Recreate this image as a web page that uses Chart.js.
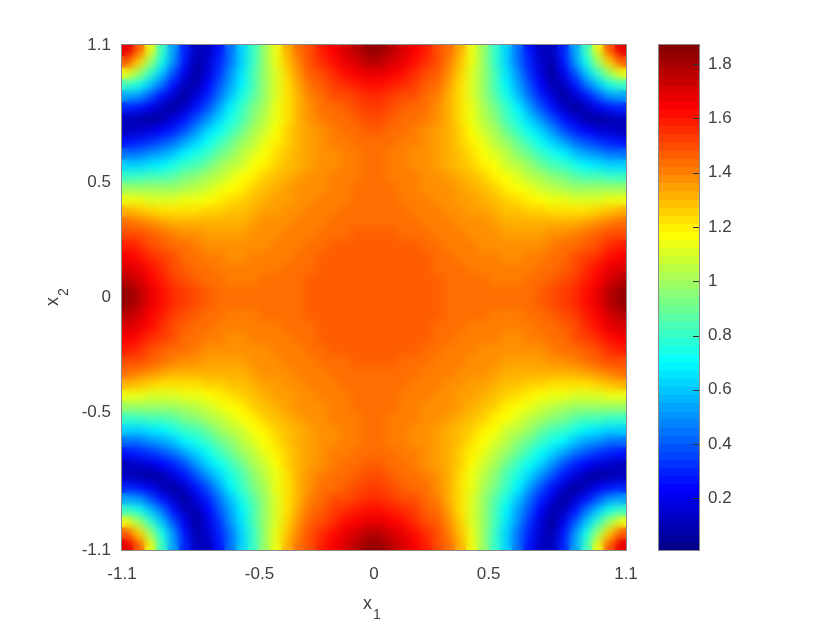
<!DOCTYPE html>
<html>
<head>
<meta charset="utf-8">
<title>contour</title>
<script src="https://cdn.jsdelivr.net/npm/chart.js@4"></script>
<style>
body { margin: 0; background: #fff; }
canvas { position: absolute; top: 0; }
#mapChart { left: 0; }
#barChart { left: 640px; }
</style>
</head>
<body>
<canvas id="mapChart" width="660" height="623"></canvas>
<canvas id="barChart" width="190" height="623"></canvas>
<script>
const xTicks = [-1.1, -0.5, 0, 0.5, 1.1];
const yTicks = [-1.1, -0.5, 0, 0.5, 1.1];
const colorTicks = [0.2, 0.4, 0.6, 0.8, 1, 1.2, 1.4, 1.6, 1.8];
const colorLevels = [0.01, 0.04, 0.07, 0.10, 0.13, 0.16, 0.19, 0.22, 0.25, 0.28, 0.31, 0.34, 0.37, 0.40, 0.43, 0.46,
    0.49, 0.52, 0.55, 0.58, 0.61, 0.64, 0.67, 0.70, 0.73, 0.76, 0.79, 0.82, 0.85, 0.88, 0.91, 0.94, 0.97, 1.00, 1.03,
    1.06, 1.09, 1.12, 1.15, 1.18, 1.21, 1.24, 1.27, 1.30, 1.33, 1.36, 1.39, 1.42, 1.45, 1.48, 1.51, 1.54, 1.57, 1.60,
    1.63, 1.66, 1.69, 1.72, 1.75, 1.78, 1.81, 1.84, 1.87];

// cell centres, measured in from the edge, the map repeats in all 4 quadrants
const cellCentres = [1.075, 1.025, 0.975, 0.925, 0.875, 0.825, 0.775, 0.725, 0.675, 0.625, 0.575,
    0.525, 0.475, 0.425, 0.375, 0.325, 0.275, 0.225, 0.175, 0.125, 0.075, 0.025];

// upper triangle, row i starts at column i
const cellValues = [
    [1.68, 1.46, 1.12, 0.80, 0.54, 0.30, 0.11, 0.11, 0.27, 0.43, 0.62, 0.81, 0.97, 1.13, 1.30, 1.42, 1.50, 1.58, 1.64, 1.70, 1.76, 1.82],
    [1.25, 0.99, 0.73, 0.49, 0.26, 0.08, 0.13, 0.29, 0.45, 0.63, 0.81, 0.97, 1.13, 1.29, 1.40, 1.48, 1.55, 1.61, 1.66, 1.71, 1.75],
    [0.80, 0.60, 0.39, 0.19, 0.04, 0.17, 0.32, 0.49, 0.65, 0.82, 0.97, 1.11, 1.255, 1.37, 1.455, 1.505, 1.56, 1.60, 1.65, 1.68],
    [0.44, 0.26, 0.11, 0.09, 0.23, 0.37, 0.53, 0.69, 0.84, 0.98, 1.10, 1.23, 1.35, 1.435, 1.475, 1.515, 1.55, 1.59, 1.62],
    [0.13, 0.05, 0.17, 0.30, 0.45, 0.60, 0.74, 0.87, 0.99, 1.11, 1.22, 1.325, 1.40, 1.445, 1.48, 1.505, 1.53, 1.56],
    [0.15, 0.27, 0.39, 0.53, 0.67, 0.80, 0.91, 1.01, 1.12, 1.22, 1.30, 1.37, 1.425, 1.445, 1.475, 1.495, 1.51],
    [0.37, 0.50, 0.63, 0.74, 0.84, 0.95, 1.04, 1.14, 1.22, 1.30, 1.36, 1.39, 1.425, 1.445, 1.465, 1.48],
    [0.61, 0.72, 0.81, 0.90, 1.00, 1.08, 1.16, 1.24, 1.31, 1.345, 1.38, 1.41, 1.43, 1.44, 1.455],
    [0.80, 0.89, 0.97, 1.05, 1.12, 1.19, 1.265, 1.30, 1.34, 1.37, 1.39, 1.415, 1.425, 1.44],
    [0.95, 1.03, 1.10, 1.17, 1.23, 1.275, 1.31, 1.345, 1.37, 1.38, 1.405, 1.415, 1.425],
    [1.08, 1.15, 1.20, 1.255, 1.29, 1.325, 1.35, 1.365, 1.38, 1.39, 1.41, 1.42],
    [1.20, 1.255, 1.285, 1.31, 1.34, 1.36, 1.375, 1.39, 1.405, 1.415, 1.425],
    [1.285, 1.31, 1.335, 1.36, 1.37, 1.385, 1.405, 1.41, 1.42, 1.43],
    [1.335, 1.355, 1.37, 1.38, 1.39, 1.41, 1.415, 1.425, 1.435],
    [1.37, 1.38, 1.39, 1.405, 1.415, 1.425, 1.43, 1.44],
    [1.39, 1.405, 1.415, 1.42, 1.43, 1.435, 1.44],
    [1.415, 1.42, 1.435, 1.44, 1.45, 1.455],
    [1.445, 1.45, 1.45, 1.455, 1.46],
    [1.455, 1.46, 1.46, 1.465],
    [1.46, 1.465, 1.47],
    [1.47, 1.475],
    [1.475]
];

const textColor = '#404040';
const boxColor = '#8a8a8a';
const tickFont = { family: 'Liberation Sans', size: 17 };

const jet = (v) => {
    const t = v / 1.87;
    const part = (c) => Math.round(255 * Math.min(1, Math.max(0, 1.5 - Math.abs(4 * t - c))));
    return `rgb(${part(3)}, ${part(2)}, ${part(1)})`;
};
const bandColor = (v) => {
    let lo = colorLevels[0];
    let hi = colorLevels[1];
    for (let k = 0; k < colorLevels.length - 1; k++) {
        if (v >= colorLevels[k]) {
            lo = colorLevels[k];
            hi = colorLevels[k + 1];
        }
    }
    return jet((lo + hi) / 2);
};
const valueAt = (i, j) => (i <= j ? cellValues[i][j - i] : cellValues[j][i - j]);

const cells = [];
const cellColors = [];
[-1, 1].forEach((sx) => {
    [-1, 1].forEach((sy) => {
        cellCentres.forEach((cx, i) => {
            cellCentres.forEach((cy, j) => {
                cells.push({ x: sx * cx, y: sy * cy });
                cellColors.push(bandColor(valueAt(i, j)));
            });
        });
    });
});

// softens the cell edges so the map reads as a filled contour
const softenCells = {
    id: 'softenCells',
    afterDatasetsDraw(chart) {
        const c = chart.ctx;
        const a = chart.chartArea;
        const w = a.right - a.left;
        const h = a.bottom - a.top;
        c.save();
        c.beginPath();
        c.rect(a.left, a.top, w, h);
        c.clip();
        c.filter = 'blur(4px)';
        c.drawImage(chart.canvas, a.left, a.top, w, h, a.left, a.top, w, h);
        c.restore();
    }
};

const boxPlugin = {
    id: 'box',
    afterDraw(chart) {
        const a = chart.chartArea;
        chart.ctx.save();
        chart.ctx.strokeStyle = boxColor;
        chart.ctx.lineWidth = 1;
        chart.ctx.strokeRect(a.left - 0.5, a.top - 0.5, a.right - a.left + 1, a.bottom - a.top + 1);
        chart.ctx.restore();
    }
};

const axisNames = {
    id: 'axisNames',
    afterDraw(chart) {
        const c = chart.ctx;
        c.save();
        c.fillStyle = textColor;
        c.textAlign = 'left';
        c.textBaseline = 'alphabetic';
        c.font = '18px "Liberation Sans"';
        c.fillText('x', 363, 609);
        c.font = '14px "Liberation Sans"';
        c.fillText('1', 373, 619);
        c.translate(58, 306);
        c.rotate(-Math.PI / 2);
        c.font = '18px "Liberation Sans"';
        c.fillText('x', 0, 0);
        c.font = '14px "Liberation Sans"';
        c.fillText('2', 10, 10);
        c.restore();
    }
};

const barTicks = {
    id: 'barTicks',
    afterDraw(chart) {
        const c = chart.ctx;
        const a = chart.chartArea;
        c.save();
        c.strokeStyle = '#333';
        c.lineWidth = 1;
        colorTicks.forEach((v) => {
            const y = Math.round(chart.scales.y.getPixelForValue(v)) + 0.5;
            c.beginPath();
            c.moveTo(a.right - 6, y);
            c.lineTo(a.right, y);
            c.stroke();
        });
        c.restore();
    }
};

const mapChart = new Chart(document.getElementById('mapChart'), {
    type: 'scatter',
    data: {
        datasets: [{
            data: cells,
            pointStyle: 'rect',
            backgroundColor: cellColors,
            borderWidth: 0,
            radius: (ctx) => {
                const s = ctx.chart.scales.x;
                return (Math.abs(s.getPixelForValue(0.05) - s.getPixelForValue(0)) / 2 + 0.4) * Math.SQRT2;
            }
        }]
    },
    plugins: [softenCells, boxPlugin, axisNames],
    options: {
        responsive: false,
        animation: false,
        events: [],
        layout: { padding: { top: 45, right: 34, left: 0, bottom: 0 } },
        plugins: { legend: { display: false }, tooltip: { enabled: false } },
        scales: {
            x: {
                min: -1.1,
                max: 1.1,
                afterFit: (s) => { s.height = 73; },
                afterBuildTicks: (s) => { s.ticks = xTicks.map((v) => ({ value: v })); },
                grid: { display: false },
                border: { display: false },
                ticks: { color: textColor, font: tickFont, padding: 6, maxRotation: 0, autoSkip: false, callback: (v) => String(v) }
            },
            y: {
                min: -1.1,
                max: 1.1,
                afterFit: (s) => { s.width = 122; },
                afterBuildTicks: (s) => { s.ticks = yTicks.map((v) => ({ value: v })); },
                grid: { display: false },
                border: { display: false },
                ticks: { color: textColor, font: tickFont, padding: 3, autoSkip: false, callback: (v) => String(v) }
            }
        }
    }
});

const barSets = [];
for (let k = 0; k < colorLevels.length - 1; k++) {
    barSets.push({
        data: [[colorLevels[k], colorLevels[k + 1]]],
        backgroundColor: jet((colorLevels[k] + colorLevels[k + 1]) / 2),
        borderWidth: 0,
        borderSkipped: false,
        barPercentage: 1,
        categoryPercentage: 1
    });
}

const barChart = new Chart(document.getElementById('barChart'), {
    type: 'bar',
    data: { labels: [''], datasets: barSets },
    plugins: [boxPlugin, barTicks],
    options: {
        responsive: false,
        animation: false,
        events: [],
        layout: { padding: { top: 45, left: 19, right: 0, bottom: 73 } },
        plugins: { legend: { display: false }, tooltip: { enabled: false } },
        scales: {
            x: { display: false, stacked: true },
            y: {
                position: 'right',
                min: 0.01,
                max: 1.87,
                afterFit: (s) => { s.width = 131; },
                afterBuildTicks: (s) => { s.ticks = colorTicks.map((v) => ({ value: v })); },
                grid: { display: false },
                border: { display: false },
                ticks: { color: textColor, font: tickFont, padding: 1, autoSkip: false, callback: (v) => String(v) }
            }
        }
    }
});
</script>
</body>
</html>
